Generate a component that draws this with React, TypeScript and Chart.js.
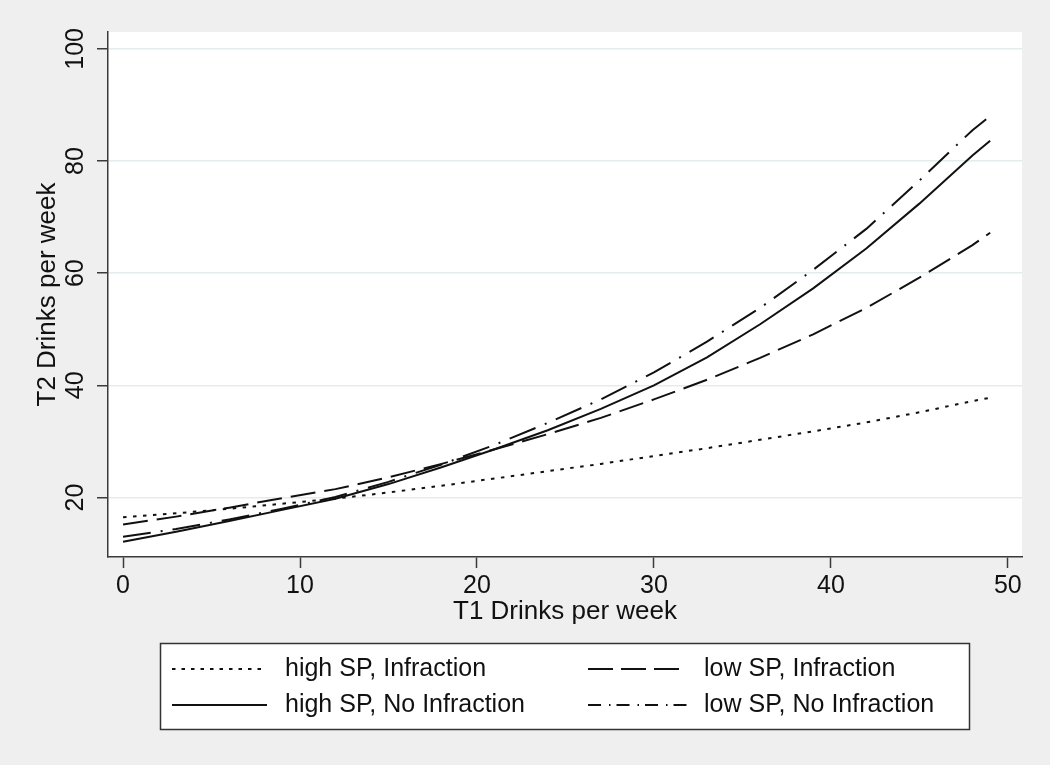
import React, { useEffect, useRef } from 'react';
import { Chart, registerables } from 'chart.js';

Chart.register(...registerables);

// ---- data ----
const xValues = [0, 3, 6, 9, 12, 15, 18, 21, 24, 27, 30, 33, 36, 39, 42, 45, 48, 49];
const highSPInfraction = [16.5, 17.2, 18.0, 18.9, 19.8, 20.9, 22.1, 23.4, 24.7, 26.0, 27.4, 28.8, 30.3, 31.8, 33.4, 35.2, 37.2, 37.8];
const lowSPInfraction = [15.2, 16.6, 18.2, 19.9, 21.5, 23.6, 26.0, 28.6, 31.3, 34.2, 37.5, 41.0, 44.9, 49.1, 53.8, 59.2, 65.0, 67.2];
const highSPNoInfraction = [12.1, 13.9, 15.8, 17.8, 19.8, 22.4, 25.4, 28.6, 32.0, 35.8, 40.0, 45.0, 50.9, 57.3, 64.4, 72.4, 81.0, 83.6];
const lowSPNoInfraction = [13.0, 14.4, 16.1, 18.0, 20.1, 22.8, 25.9, 29.4, 33.3, 37.5, 42.3, 47.8, 53.8, 60.6, 67.9, 76.5, 85.5, 88.0];
const seriesLabels = ['high SP, Infraction', 'low SP, Infraction', 'high SP, No Infraction', 'low SP, No Infraction'];
const xTicks = [0, 10, 20, 30, 40, 50];
const yTicks = [20, 40, 60, 80, 100];
const xTitle = 'T1 Drinks per week';
const yTitle = 'T2 Drinks per week';

const FONT = '"Liberation Sans", Arial, Helvetica, sans-serif';
const INK = '#111111';
const AXIS = '#3a3a3a';

const dashes = [[3.5, 6.5], [25, 9], [], [28, 10, 2, 10]];
const legendDashes = [[3.5, 6], [25, 8], [], [13, 8, 1.5, 6]];

const seriesValues = [highSPInfraction, lowSPInfraction, highSPNoInfraction, lowSPNoInfraction];

const bgPlugin = {
  id: 'bg',
  beforeDraw(chart: any) {
    const { ctx, chartArea } = chart;
    ctx.save();
    ctx.fillStyle = '#efefef';
    ctx.fillRect(0, 0, chart.width, chart.height);
    ctx.fillStyle = '#ffffff';
    ctx.fillRect(chartArea.left, chartArea.top, chartArea.right - chartArea.left, chartArea.bottom - chartArea.top);
    ctx.restore();
  },
};

const boxLegendPlugin = {
  id: 'boxLegend',
  afterDraw(chart: any) {
    const ctx = chart.ctx;
    ctx.save();
    const bx = 160, by = 643, bw = 809, bh = 86;
    ctx.fillStyle = '#ffffff';
    ctx.fillRect(bx, by, bw, bh);
    ctx.strokeStyle = '#333333';
    ctx.lineWidth = 1.5;
    ctx.strokeRect(bx + 0.5, by + 0.5, bw, bh);
    const cols = [{ l0: 172, l1: 267, tx: 285 }, { l0: 588, l1: 687, tx: 704 }];
    const rows = [669, 705];
    chart.data.datasets.forEach((ds: any, i: number) => {
      const c = cols[i % 2];
      const y = rows[Math.floor(i / 2)];
      ctx.beginPath();
      ctx.setLineDash(legendDashes[i]);
      ctx.lineWidth = 2;
      ctx.strokeStyle = INK;
      ctx.moveTo(c.l0, y);
      ctx.lineTo(c.l1, y);
      ctx.stroke();
      ctx.setLineDash([]);
      ctx.fillStyle = INK;
      ctx.font = `25px ${FONT}`;
      ctx.textBaseline = 'middle';
      ctx.textAlign = 'left';
      ctx.fillText(ds.label, c.tx, y);
    });
    ctx.restore();
  },
};

export default function App() {
  const ref = useRef<HTMLCanvasElement>(null);
  useEffect(() => {
    document.body.style.margin = '0';
    document.body.style.background = '#efefef';
    const datasets = seriesLabels.map((label, i) => ({
      label,
      data: xValues.map((x, j) => ({ x, y: seriesValues[i][j] })),
      borderColor: INK,
      backgroundColor: INK,
      borderWidth: 2,
      borderDash: dashes[i],
      pointRadius: 0,
      tension: 0,
      fill: false,
    }));
    const chart = new Chart(ref.current as HTMLCanvasElement, {
      type: 'line',
      data: { datasets },
      plugins: [bgPlugin, boxLegendPlugin],
      options: {
        animation: false,
        responsive: false,
        maintainAspectRatio: false,
        layout: { padding: { left: 0, top: 32, right: 28, bottom: 128 } },
        plugins: { legend: { display: false }, tooltip: { enabled: false } },
        scales: {
          x: {
            type: 'linear',
            min: -0.85,
            max: 50.8,
            afterBuildTicks: (s: any) => { s.ticks = xTicks.map((v) => ({ value: v })); },
            afterFit: (s: any) => { s.height = 80; },
            grid: { drawOnChartArea: false, drawTicks: true, tickLength: 11, tickColor: AXIS, tickWidth: 1.5 },
            border: { display: true, color: AXIS, width: 1.5 },
            ticks: { color: INK, font: { family: FONT, size: 25 }, padding: 3, maxRotation: 0, autoSkip: false },
            title: { display: true, text: xTitle, color: INK, font: { family: FONT, size: 26 }, padding: { top: 0, bottom: 10 } },
          },
          y: {
            type: 'linear',
            min: 9.4,
            max: 103,
            afterBuildTicks: (s: any) => { s.ticks = yTicks.map((v) => ({ value: v })); },
            afterFit: (s: any) => { s.width = 108; },
            grid: { color: '#e4eced', lineWidth: 1.5, drawTicks: true, tickLength: 11, tickColor: AXIS, tickWidth: 1.5 },
            border: { display: true, color: AXIS, width: 1.5 },
            ticks: { color: INK, font: { family: FONT, size: 25 }, padding: 0, minRotation: 90, maxRotation: 90, crossAlign: 'center', autoSkip: false },
            title: { display: true, text: yTitle, color: INK, font: { family: FONT, size: 26 }, padding: { top: 32, bottom: 0 } },
          },
        },
      } as any,
    });
    return () => chart.destroy();
  }, []);
  return (
    <div style={{ width: 1050, height: 765 }}>
      <canvas ref={ref} width={1050} height={765} style={{ display: 'block' }} />
    </div>
  );
}
